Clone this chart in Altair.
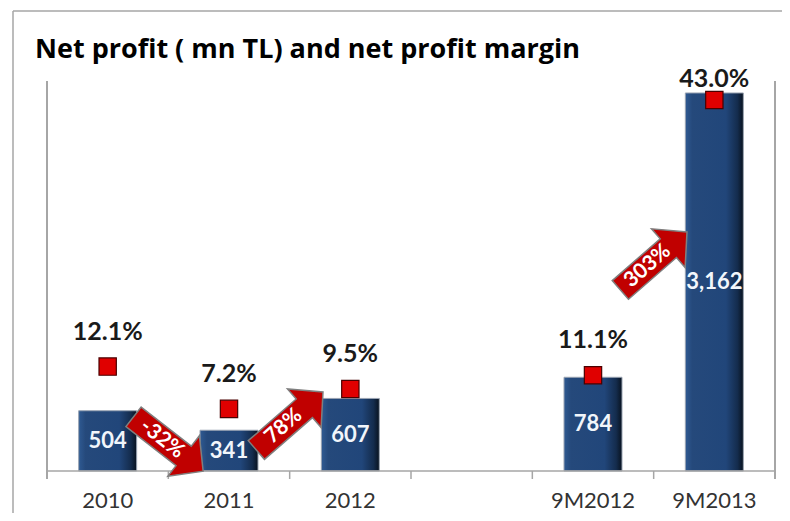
import altair as alt
import pandas as pd

# ---- data ----
chart_title = "Net profit ( mn TL) and net profit margin"
x_slots = ["2010", "2011", "2012", " ", "9M2012", "9M2013"]   # " " is the empty gap slot
periods = ["2010", "2011", "2012", "9M2012", "9M2013"]
net_profit = [504, 341, 607, 784, 3162]          # mn TL
margin_pct = [12.1, 7.2, 9.5, 11.1, 43.0]        # net profit margin %

arrow_into = ["2011", "2012", "9M2013"]          # arrow sits at the left edge of this slot
arrow_change = [-32, 78, 303]                    # growth %
arrow_level = [226, 418, 1757]                   # vertical position in mn TL units

profit_max = 3262
margin_max = 45.2

FONT = "Lato"
TFONT = "Open Sans"
GREY = "#a6a6a6"
W, H = 728, 390

main_df = pd.DataFrame({"period": periods, "profit": net_profit, "margin": margin_pct})
arrow_df = pd.DataFrame({"period": arrow_into, "change": arrow_change, "level": arrow_level})
slot_df = pd.DataFrame({"period": x_slots})
title_df = pd.DataFrame({"t": [chart_title]})

x_scale = alt.Scale(domain=x_slots, paddingInner=0, paddingOuter=0)


def xq(band=0.5):
    return alt.X("period:N", scale=x_scale, sort=x_slots, bandPosition=band, axis=None)


y_profit_scale = alt.Scale(domain=[0, profit_max], nice=False, zero=True)
y_margin_scale = alt.Scale(domain=[0, margin_max], nice=False, zero=True)

bar_fill = alt.Gradient(
    gradient="linear", x1=0, x2=1, y1=0, y2=0,
    stops=[
        alt.GradientStop(color="#2f5a92", offset=0),
        alt.GradientStop(color="#25497b", offset=0.12),
        alt.GradientStop(color="#21467a", offset=0.7),
        alt.GradientStop(color="#142c4d", offset=0.9),
        alt.GradientStop(color="#08121f", offset=1),
    ],
)

bars = alt.Chart(main_df).mark_bar(width=58, color=bar_fill, stroke="#9aa4b3", strokeWidth=1).encode(
    x=alt.X("period:N", scale=x_scale, sort=x_slots, axis=None),
    y=alt.Y("profit:Q", scale=y_profit_scale, axis=None),
)

bar_labels = alt.Chart(main_df).transform_calculate(
    mid="datum.profit / 2"
).mark_text(font=FONT, fontSize=22, fontWeight="bold", color="#f2f6fb", baseline="middle").encode(
    x=xq(),
    y=alt.Y("mid:Q", scale=y_profit_scale, axis=None),
    text=alt.Text("profit:Q", format=","),
)

ARROW = "M -1 -0.28 L 0.44 -0.28 L 0.44 -0.58 L 1 0 L 0.44 0.58 L 0.44 0.28 L -1 0.28 Z"

arrows = alt.Chart(arrow_df).transform_calculate(
    ang="datum.change < 0 ? 38 : 319"
).mark_point(shape=ARROW, filled=True, fill="#c00000", stroke="#7f7f7f",
             strokeWidth=1.5, opacity=1, size=7800).encode(
    x=xq(0),
    y=alt.Y("level:Q", scale=y_profit_scale, axis=None),
    angle=alt.Angle("ang:Q", scale=None),
)

arrow_text = alt.Chart(arrow_df).transform_calculate(
    ang="datum.change < 0 ? 38 : 319",
    label="datum.change + '%'",
).mark_text(font=FONT, fontSize=21, fontWeight="bold", color="white",
            baseline="middle", align="center", dx=-8).encode(
    x=xq(0),
    y=alt.Y("level:Q", scale=y_profit_scale, axis=None),
    angle=alt.Angle("ang:Q", scale=None),
    text="label:N",
)

# ---- frame, axis lines, ticks, category labels ----
frame_left = alt.Chart(title_df).mark_rule(color=GREY, strokeWidth=1.5).encode(
    x=alt.value(-34), y=alt.value(-70), y2=alt.value(440)
)
frame_top = alt.Chart(title_df).mark_rule(color=GREY, strokeWidth=1.5).encode(
    x=alt.value(-34), x2=alt.value(740), y=alt.value(-70)
)
axis_left = alt.Chart(title_df).mark_rule(color=GREY, strokeWidth=2).encode(
    x=alt.value(0), y=alt.value(0), y2=alt.value(H + 8)
)
axis_right = alt.Chart(title_df).mark_rule(color=GREY, strokeWidth=2).encode(
    x=alt.value(W), y=alt.value(0), y2=alt.value(H + 8)
)
axis_base = alt.Chart(title_df).mark_rule(color=GREY, strokeWidth=1.5).encode(
    x=alt.value(0), x2=alt.value(W), y=alt.value(H)
)
ticks = alt.Chart(slot_df).mark_rule(color=GREY, strokeWidth=1.5).encode(
    x=xq(0), y=alt.value(H), y2=alt.value(H + 8)
)
cat_labels = alt.Chart(slot_df).mark_text(
    font=FONT, fontSize=22, color="#333333", baseline="alphabetic", align="center"
).encode(x=xq(), y=alt.value(H + 37), text="period:N")

title_text = alt.Chart(title_df).mark_text(
    font=TFONT, fontSize=27, fontWeight="bold", color="#000000",
    align="left", baseline="alphabetic",
).encode(x=alt.value(-12), y=alt.value(-23), text="t:N")

squares = alt.Chart(main_df).mark_point(
    shape="square", filled=True, size=300, fill="#e00000", stroke="#4a0000",
    strokeWidth=1.2, opacity=1,
).encode(
    x=xq(),
    y=alt.Y("margin:Q", scale=y_margin_scale, axis=None),
)

margin_labels = alt.Chart(main_df).transform_calculate(
    pos="min(datum.margin + 4.06, 45.38)",
    label="format(datum.margin, '.1f') + '%'",
).mark_text(font=FONT, fontSize=25, fontWeight="bold", color="#1a1a1a", baseline="middle").encode(
    x=xq(),
    y=alt.Y("pos:Q", scale=y_margin_scale, axis=None),
    text="label:N",
)

primary = alt.layer(
    frame_left, frame_top, title_text, axis_left, axis_right, ticks, cat_labels,
    bars, axis_base, bar_labels, arrows, arrow_text,
)
secondary = alt.layer(squares, margin_labels)

chart = alt.layer(primary, secondary).resolve_scale(y="independent").properties(
    width=W,
    height=H,
    background="white",
    autosize=alt.AutoSizeParams(type="none"),
    padding={"left": 39, "top": 73, "right": 7, "bottom": 42},
).configure_view(stroke=None)

chart.save("out.html", embed_options={"renderer": "svg", "actions": False})
